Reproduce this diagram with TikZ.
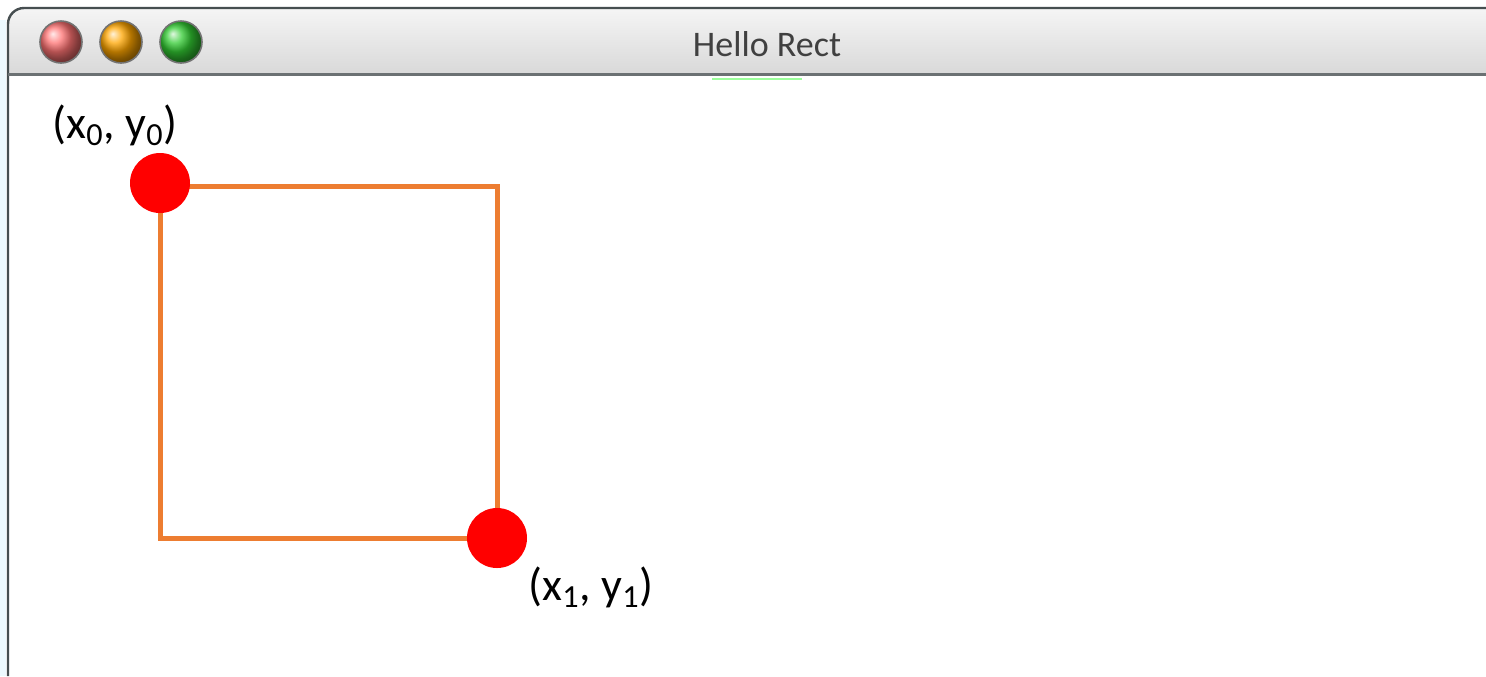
\documentclass[tikz,border=0pt]{standalone}
\usepackage{fontspec}
\setmainfont{Carlito}
\usetikzlibrary{positioning}
\definecolor{rectorange}{RGB}{237,125,49}
\definecolor{titlegray}{RGB}{64,64,64}
\definecolor{frameedge}{RGB}{70,78,80}
\tikzset{
  winbtn/.style={circle,inner sep=0pt,minimum size=21pt,draw=black!55,line width=0.8pt,shading=ball},
  ptdot/.style={circle,fill=red,inner sep=0pt,minimum size=30pt},
  rectline/.style={draw=rectorange,line width=2.5pt},
  ptlabel/.style={anchor=base,font=\fontsize{23pt}{26pt}\selectfont,inner sep=0pt},
}
\begin{document}
\begin{tikzpicture}[x=0.5pt,y=-0.5pt]
  \useasboundingbox (0,0) rectangle (1486,676);
  \fill[white] (0,0) rectangle (1486,676);
  % window frame
  \fill[cyan!7] (0,20) rectangle (6,676);
  \shade[top color=gray!8,bottom color=gray!30] (8,74) [rounded corners=8pt] -- (8,8) [sharp corners] -- (1486,8) -- (1486,74) -- cycle;
  \draw[frameedge,line width=1.2pt] (8,676) [rounded corners=8pt] -- (8,8) [sharp corners] -- (1486,8);
  \draw[frameedge!80,line width=1.5pt] (8,74) -- (1486,74);
  \draw[green!55,line width=0.8pt,opacity=0.7] (712,79) -- (802,79);
  % buttons
  \node[winbtn,ball color=red!55!white] (close) at (61,42) {};
  \node[winbtn,ball color=orange!70!yellow] (minim) at (121,42) {};
  \node[winbtn,ball color=green!75!black!80!white] (zoom) at (181,42) {};
  \node[anchor=base,text=titlegray,font=\fontsize{18pt}{20pt}\selectfont] (title) at (767,56) {Hello Rect};
  % rectangle and corner points
  \coordinate (c0) at (160,186);
  \coordinate (c1) at (497,538);
  \draw[rectline] (c0) rectangle (c1);
  \node[ptdot] (p0) at (160,183) {};
  \node[ptdot] (p1) at (c1) {};
  \node[ptlabel] (l0) at (115,138) {(x\textsubscript{0}, y\textsubscript{0})};
  \node[ptlabel] (l1) at (591,600) {(x\textsubscript{1}, y\textsubscript{1})};
\end{tikzpicture}
\end{document}
